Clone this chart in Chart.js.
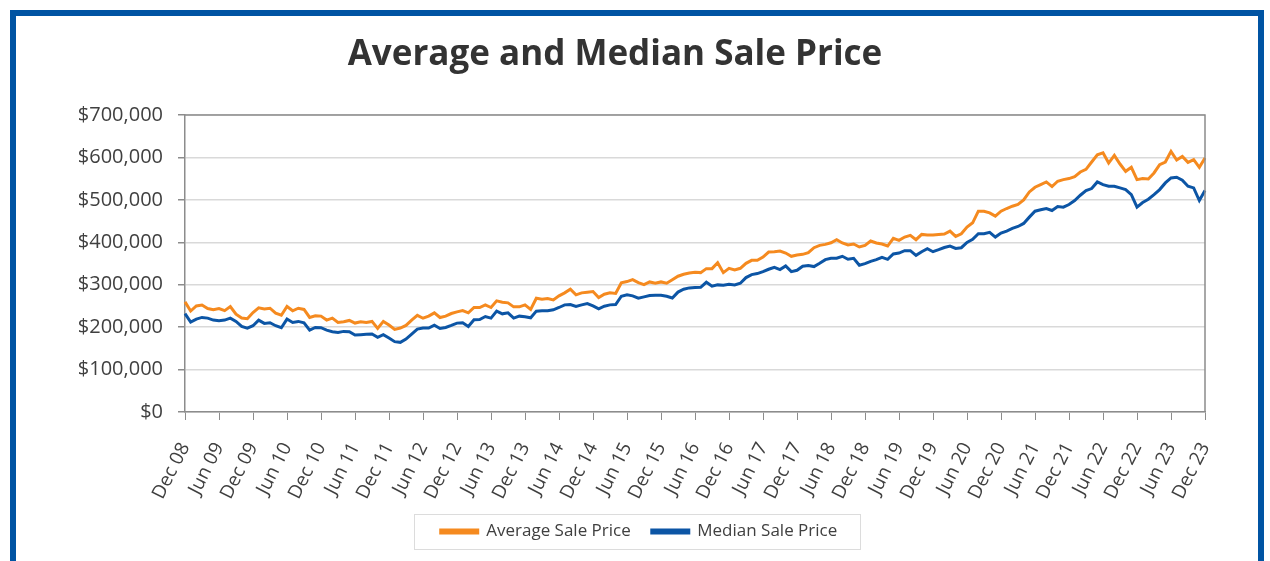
<!DOCTYPE html>
<html>
<head>
<meta charset="utf-8">
<title>Average and Median Sale Price</title>
<script src="https://cdn.jsdelivr.net/npm/chart.js@4.4.0/dist/chart.umd.min.js"></script>
<style>
  html, body { margin: 0; padding: 0; background: #fff; }
  body { width: 1270px; height: 561px; position: relative; overflow: hidden; font-family: "Open Sans", sans-serif; }
  .frame { position: absolute; left: 10px; top: 10px; width: 1242px; height: 600px; border: 6px solid #0054a3; border-bottom: none; }
  .title { position: absolute; top: 28px; left: 0; width: 1230px; text-align: center; font-size: 35px; font-weight: 700; color: #333; }
  #chart { position: absolute; left: 0; top: 0; }
</style>
</head>
<body>
<div class="frame"></div>
<canvas id="chart" width="1270" height="561"></canvas>
<div class="title">Average and Median Sale Price</div>
<script>
const tickLabels = ['Dec 08', 'Jun 09', 'Dec 09', 'Jun 10', 'Dec 10', 'Jun 11', 'Dec 11', 'Jun 12',
  'Dec 12', 'Jun 13', 'Dec 13', 'Jun 14', 'Dec 14', 'Jun 15', 'Dec 15', 'Jun 16', 'Dec 16',
  'Jun 17', 'Dec 17', 'Jun 18', 'Dec 18', 'Jun 19', 'Dec 19', 'Jun 20', 'Dec 20', 'Jun 21',
  'Dec 21', 'Jun 22', 'Dec 22', 'Jun 23', 'Dec 23'];

// monthly values, Dec 2008 .. Dec 2023
const averagePrice = [
  259600, 238000, 250000, 252000, 244000, 241000, 244000, 239000, 248600, 230600, 221300, 219700,
  234500, 245400, 243000, 244600, 232900, 228000, 248600, 238500, 244600, 241700, 222900, 226600,
  226000, 216600, 221300, 211000, 212700, 215800, 209600, 212700, 211000, 213500, 197000, 213500,
  205000, 194600, 197800, 204000, 216600, 227700, 221000, 226000, 233700, 222700, 225900, 232100,
  236000, 239200, 233700, 246300, 246300, 252500, 246300, 262000, 258800, 257300, 247800, 247800,
  252500, 241600, 268200, 265900, 267400, 264300, 273700, 280800, 289400, 276100, 280800, 282400,
  283900, 269800, 277600, 280800, 279300, 304300, 307400, 312100, 305100, 300400, 306600, 303500,
  306600, 303500, 311700, 320000, 324600, 327700, 329200, 328500, 337900, 337900, 352000, 328500,
  338700, 334800, 338700, 350400, 357500, 357500, 365300, 377100, 377800, 379400, 374700, 366900,
  370000, 371600, 375500, 387300, 392800, 395100, 398900, 406100, 398300, 393600, 395900, 388900,
  392800, 403000, 398300, 395900, 391200, 409200, 404500, 412400, 416300, 406100, 418600, 417100,
  417100, 418600, 419500, 426300, 413800, 420100, 435700, 445900, 473300, 473300, 469400, 461600,
  473300, 479600, 485000, 489000, 500000, 518700, 529700, 536000, 542200, 531300, 543800, 547700,
  550100, 554800, 565700, 572000, 589200, 606400, 611100, 586800, 604800, 584500, 567200, 576600,
  547700, 550100, 549300, 563400, 583000, 589200, 614200, 593900, 602500, 588400, 594700, 576600,
  598500
];

const medianPrice = [
  232000, 212000, 219000, 222900, 221300, 216600, 215000, 216600, 221300, 213500, 201600, 197800,
  203300, 216600, 208800, 210300, 203300, 198600, 219000, 211000, 213500, 210300, 193100, 199400,
  198600, 193100, 189200, 187600, 190000, 189200, 181400, 182200, 183000, 183700, 175900, 182200,
  174400, 165800, 164200, 172000, 183700, 195400, 197800, 197700, 204700, 196900, 199300, 204000,
  209500, 210200, 201600, 217300, 218100, 225100, 221200, 237700, 231400, 233700, 221200, 225900,
  224400, 222000, 237700, 238500, 238500, 240800, 246300, 252500, 253300, 248600, 252500, 255700,
  250200, 243200, 249400, 252500, 253300, 272900, 276100, 273700, 268200, 271400, 274500, 275300,
  275300, 272900, 268600, 282600, 289300, 292500, 293300, 294000, 305800, 296400, 299600, 298800,
  301200, 299600, 303500, 316800, 323900, 326200, 330900, 336400, 341100, 335600, 344200, 330900,
  334100, 343500, 345000, 342700, 350500, 359100, 362300, 362300, 367000, 359900, 362300, 345800,
  349700, 355200, 359100, 364600, 359900, 372400, 374700, 380200, 380200, 369300, 377800, 384900,
  377800, 382500, 387600, 391100, 385600, 387200, 399700, 406800, 420100, 420100, 423300, 412300,
  421700, 426400, 432600, 437300, 444400, 459300, 473300, 476500, 479600, 474900, 484300, 482800,
  489000, 498400, 510900, 521900, 526600, 542200, 536000, 532100, 532100, 528200, 524200, 512500,
  482800, 493800, 501600, 512500, 524200, 539900, 551600, 553200, 546200, 532100, 528200, 498400,
  521900
];

// one category per month, labelled every six months
const months = averagePrice.map((v, i) => (i % 6 === 0 ? tickLabels[i / 6] : ''));

const axisGrey = '#8c8c8c';
const textGrey = '#404040';

// top and right edges of the plot area
const plotFrame = {
  id: 'plotFrame',
  afterDatasetsDraw(chart) {
    const { ctx, chartArea } = chart;
    ctx.save();
    ctx.strokeStyle = axisGrey;
    ctx.lineWidth = 1.5;
    ctx.beginPath();
    ctx.moveTo(chartArea.left, chartArea.top);
    ctx.lineTo(chartArea.right, chartArea.top);
    ctx.lineTo(chartArea.right, chartArea.bottom);
    ctx.stroke();
    ctx.restore();
  }
};

// thin box around the legend items
const legendFrame = {
  id: 'legendFrame',
  afterDraw(chart) {
    const boxes = chart.legend.legendHitBoxes;
    if (!boxes || !boxes.length) return;
    const left = Math.min(...boxes.map(b => b.left)) - 27;
    const right = Math.max(...boxes.map(b => b.left + b.width)) + 22;
    const top = boxes[0].top - 9;
    const bottom = boxes[0].top + boxes[0].height + 9;
    const ctx = chart.ctx;
    ctx.save();
    ctx.strokeStyle = '#dcdcdc';
    ctx.lineWidth = 1;
    ctx.strokeRect(Math.round(left) + 0.5, Math.round(top) + 0.5, Math.round(right - left), Math.round(bottom - top));
    ctx.restore();
  }
};

Chart.defaults.font.family = '"Open Sans", sans-serif';

new Chart(document.getElementById('chart').getContext('2d'), {
  type: 'line',
  data: {
    labels: months,
    datasets: [{
      label: 'Average Sale Price',
      data: averagePrice,
      borderColor: '#f58a1f',
      backgroundColor: '#f58a1f',
      borderWidth: 3,
      pointRadius: 0,
      fill: false,
      tension: 0
    }, {
      label: 'Median Sale Price',
      data: medianPrice,
      borderColor: '#0c55a5',
      backgroundColor: '#0c55a5',
      borderWidth: 3,
      pointRadius: 0,
      fill: false,
      tension: 0
    }]
  },
  options: {
    responsive: false,
    animation: false,
    layout: { padding: { top: 115, right: 0, left: 8, bottom: 11 } },
    plugins: {
      title: { display: false },
      tooltip: { enabled: false },
      legend: {
        position: 'bottom',
        labels: {
          boxWidth: 37,
          boxHeight: 3,
          padding: 21,
          color: textGrey,
          font: { size: 17 }
        }
      }
    },
    scales: {
      x: {
        afterFit: axis => { axis.height = 90; },
        grid: {
          drawOnChartArea: false,
          color: ctx => (ctx.index % 6 === 0 ? axisGrey : 'rgba(0,0,0,0)'),
          tickLength: 8
        },
        border: { color: axisGrey, width: 1.5 },
        ticks: {
          autoSkip: false,
          maxRotation: 63,
          minRotation: 63,
          padding: 19,
          color: textGrey,
          font: { size: 19 }
        }
      },
      y: {
        min: 0,
        max: 700000,
        afterFit: axis => { axis.width = 177; },
        grid: { color: '#d9d9d9', tickColor: axisGrey, tickLength: 7, lineWidth: 1.5 },
        border: { color: axisGrey, width: 1.5 },
        ticks: {
          stepSize: 100000,
          padding: 15,
          color: textGrey,
          font: { size: 20 },
          callback: v => '$' + v.toLocaleString('en-US')
        }
      },
      // empty right-hand margin so the plot ends where the reference does
      yRight: {
        position: 'right',
        display: true,
        afterFit: axis => { axis.width = 65; },
        grid: { display: false },
        border: { display: false },
        ticks: { display: false }
      }
    }
  },
  plugins: [plotFrame, legendFrame]
});
</script>
</body>
</html>
